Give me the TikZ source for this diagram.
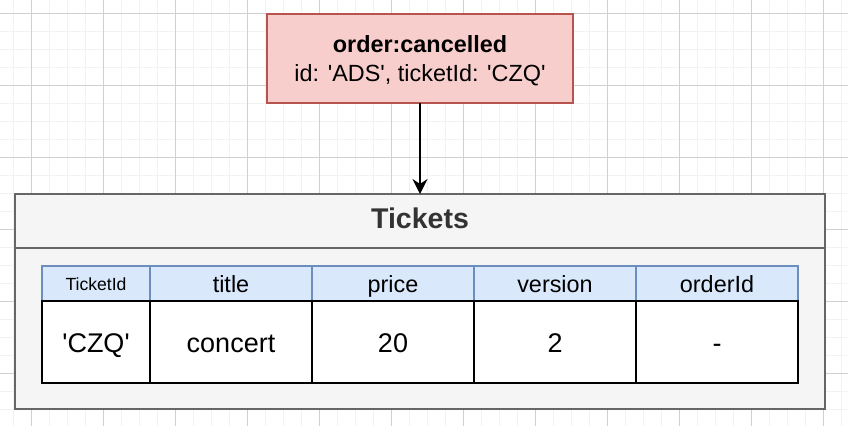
\documentclass[tikz,border=0pt]{standalone}
\usepackage{fontspec}
\newfontfamily\arial{Liberation Sans}
\usetikzlibrary{arrows.meta}
\definecolor{evfill}{HTML}{F8CECC}
\definecolor{evdraw}{HTML}{B85450}
\definecolor{tkfill}{HTML}{F5F5F5}
\definecolor{tkdraw}{HTML}{666666}
\definecolor{hdfill}{HTML}{DAE8FC}
\definecolor{hddraw}{HTML}{6C8EBF}
\definecolor{gridminor}{HTML}{F2F2F2}
\definecolor{gridmajor}{HTML}{D0D0D0}
\definecolor{tktext}{HTML}{333333}
\tikzset{
  box/.style={rectangle, inner sep=0pt, outer sep=0pt, line width=1.8pt, font=\arial},
  eventbox/.style={box, fill=evfill, draw=evdraw},
  eventtext/.style={inner sep=0pt, align=center, text=black,
    font=\arial\fontsize{23.4}{29}\selectfont},
  lane/.style={box, fill=tkfill, draw=tkdraw},
  hdcell/.style={box, fill=hdfill, draw=hddraw, minimum height=35pt,
    text height=21pt, text depth=4pt,
    font=\arial\fontsize{23.4}{28}\selectfont},
  datacell/.style={box, fill=white, draw=black, minimum height=82pt,
    text height=25pt, text depth=4.4pt,
    font=\arial\fontsize{27}{32}\selectfont},
  flow/.style={line width=1.8pt, draw=black, -{Stealth[length=15pt,width=15pt,inset=5pt]}}
}
\begin{document}
\begin{tikzpicture}[x=1pt,y=-1pt]
\useasboundingbox (0,0) rectangle (848,426);
\fill[white] (0,0) rectangle (848,426);
% grid
\foreach \i in {0,...,46} {\draw[gridminor, line width=1.6pt] ({13.5+18*\i},0) -- ({13.5+18*\i},426);}
\foreach \j in {0,...,23} {\draw[gridminor, line width=1.6pt] (0,{13.3+18*\j}) -- (848,{13.3+18*\j});}
\foreach \i in {0,...,11} {\draw[gridmajor, line width=0.8pt] ({31.5+72*\i},0) -- ({31.5+72*\i},426);}
\foreach \j in {0,...,5} {\draw[gridmajor, line width=0.8pt] (0,{13.3+72*\j}) -- (848,{13.3+72*\j});}
% event
\node[eventbox, minimum width=306pt, minimum height=89pt] (event) at (420,58.5) {};
\node[eventtext] (eventlabel) at (420,60.5)
  {\textbf{order:cancelled}\\id: 'ADS', ticketId: 'CZQ'};
% tickets lane
\node[lane, minimum width=810pt, minimum height=161pt] (tkbody) at (420,328.5) {};
\node[lane, minimum width=810pt, minimum height=54pt, text=tktext,
  text height=20.5pt, text depth=6pt,
  font=\arial\bfseries\fontsize{28.5}{34}\selectfont] (tkhead) at (420,221) {Tickets};
% header row
\node[hdcell, minimum width=108pt, text height=17pt, text depth=4pt,
  font=\arial\fontsize{17.6}{21}\selectfont] (h1) at (96,283.5) {TicketId};
\node[hdcell, minimum width=162pt] (h2) at (231,283.5) {title};
\node[hdcell, minimum width=162pt] (h3) at (393,283.5) {price};
\node[hdcell, minimum width=162pt] (h4) at (555,283.5) {version};
\node[hdcell, minimum width=162pt] (h5) at (717,283.5) {orderId};
% data row
\node[datacell, minimum width=108pt] (d1) at (96,342) {'CZQ'};
\node[datacell, minimum width=162pt] (d2) at (231,342) {concert};
\node[datacell, minimum width=162pt] (d3) at (393,342) {20};
\node[datacell, minimum width=162pt] (d4) at (555,342) {2};
\node[datacell, minimum width=162pt] (d5) at (717,342) {-};
% connector
\draw[flow] (event.south) -- (tkhead.north);
\end{tikzpicture}
\end{document}
